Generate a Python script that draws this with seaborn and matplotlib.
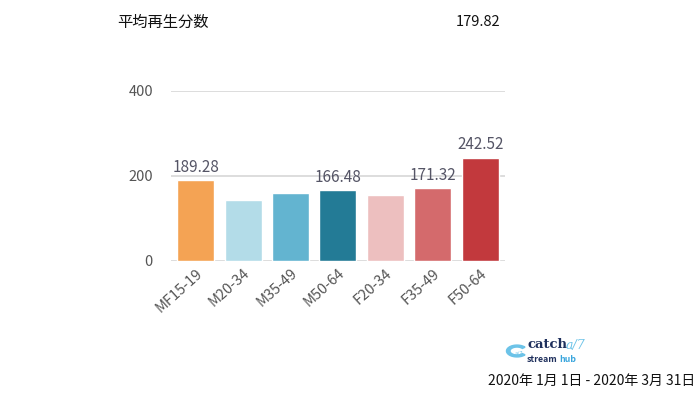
import matplotlib
matplotlib.use("Agg")
import matplotlib.pyplot as plt
import seaborn as sns
import pandas as pd
from matplotlib.patches import Wedge

categories = ["MF15-19", "M20-34", "M35-49", "M50-64", "F20-34", "F35-49", "F50-64"]
values = [189.28, 143.0, 160.0, 166.48, 154.0, 171.32, 242.52]
shown_labels = ["189.28", "", "", "166.48", "", "171.32", "242.52"]
colors = ["#F4A354", "#B3DCE8", "#63B4D0", "#237B96", "#EDBFBF", "#D46A6C", "#C2393D"]
yticks = [0, 200, 400]
title = "平均再生分数"
overall = "179.82"
date_range = "2020年 1月 1日 - 2020年 3月 31日"

sns.set_theme(style="white")
plt.rcParams["font.family"] = ["Noto Sans CJK JP", "DejaVu Sans"]

df = pd.DataFrame({"cat": categories, "val": values})

fig = plt.figure(figsize=(7, 3.95), dpi=100)
ax = fig.add_axes([0.2443, 0.340, 0.4771, 0.4304])
sns.barplot(data=df, x="cat", y="val", hue="cat", palette=colors, legend=False,
            width=0.78, saturation=1, ax=ax, zorder=3)

ax.set_xlim(-0.52, 6.52)
ax.set_ylim(0, 400)
ax.set_yticks(yticks)
ax.set_yticklabels([str(t) for t in yticks], color="#555555", fontsize=10.5)
ax.set_xlabel("")
ax.set_ylabel("")
ax.yaxis.grid(True, color="#dddddd", linewidth=1.4, zorder=0)
ax.set_axisbelow(True)
for s in ax.spines.values():
    s.set_visible(False)
ax.tick_params(axis="y", length=0, pad=13)
ax.tick_params(axis="x", length=0, pad=4)
plt.setp(ax.get_xticklabels(), rotation=42, ha="right", rotation_mode="anchor",
         color="#555555", fontsize=10.5)

for i, (v, lab) in enumerate(zip(values, shown_labels)):
    if lab:
        ax.text(i, v + 10, lab, ha="center", va="bottom", color="#555566", fontsize=11)

fig.text(117 / 700, 1 - 22 / 395, title, ha="left", va="center", fontsize=11, color="#111111")
fig.text(500 / 700, 1 - 22 / 395, overall, ha="right", va="center", fontsize=10.5, color="#111111")
fig.text(695 / 700, 1 - 381 / 395, date_range, ha="right", va="center", fontsize=10, color="#111111")

# logo
fig.patches.append(Wedge((517 / 700, 1 - 351 / 395), 0.015, 40, 320, width=0.005,
                         transform=fig.transFigure, color="#6CC3E8"))
fig.text(519 / 700, 1 - 353 / 395, "a/7", fontsize=4, color="#6CC3E8", ha="center", va="center",
         style="italic")
fig.text(527 / 700, 1 - 345 / 395, "catch", fontsize=9.5, color="#1E2F5C", fontweight="bold",
         family="DejaVu Serif", ha="left", va="center")
fig.text(566 / 700, 1 - 345 / 395, "a/7", fontsize=9, color="#6CC3E8", style="italic",
         family="DejaVu Serif", ha="left", va="center")
fig.text(527 / 700, 1 - 360 / 395, "stream", fontsize=6.3, color="#1E2F5C", fontweight="bold",
         ha="left", va="center")
fig.text(559 / 700, 1 - 360 / 395, "hub", fontsize=6.3, color="#3AA6DD", fontweight="bold",
         ha="left", va="center")

fig.savefig("out.png", dpi=100, facecolor="white")
